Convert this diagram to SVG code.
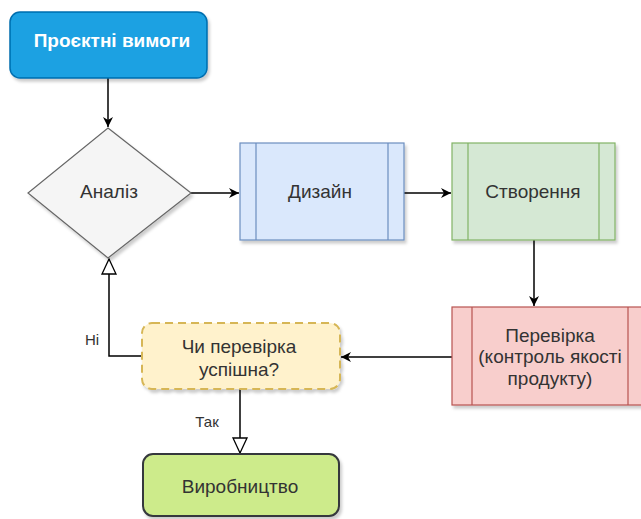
<svg xmlns="http://www.w3.org/2000/svg" width="641" height="519" viewBox="0 0 641 519">
<defs>
<filter id="sh" x="-10%" y="-10%" width="130%" height="130%">
<feDropShadow dx="2" dy="3" stdDeviation="1.5" flood-color="#000" flood-opacity="0.2"/>
</filter>
<marker id="fa" markerUnits="userSpaceOnUse" markerWidth="12" markerHeight="12" viewBox="0 0 12 12" refX="11" refY="6" orient="auto">
<path d="M1,1 L11,6 L1,11 L4,6 z" fill="#000"/>
</marker>
<marker id="ha" markerUnits="userSpaceOnUse" markerWidth="18" markerHeight="18" viewBox="0 0 18 18" refX="16" refY="9" orient="auto">
<path d="M1,2 L16,9 L1,16 z" fill="#fff" stroke="#000" stroke-width="1.3"/>
</marker>
</defs>
<style>
text{font-family:"Liberation Sans",Arial,sans-serif;font-size:19px;fill:#333;text-anchor:middle}
.lbl{font-size:15px}
.c{fill:none;stroke:#000;stroke-width:1.5}
</style>
<g id="connectors">
<path class="c" d="M108,78 L108,127" marker-end="url(#fa)"/>
<path class="c" d="M191,193 L239,193" marker-end="url(#fa)"/>
<path class="c" d="M404,193 L451,193" marker-end="url(#fa)"/>
<path class="c" d="M534,240 L534,306" marker-end="url(#fa)"/>
<path class="c" d="M452,357 L341,357" marker-end="url(#fa)"/>
<path class="c" d="M142,356 L109,356 L109,259" marker-end="url(#ha)"/>
<path class="c" d="M240,389 L240,453" marker-end="url(#ha)"/>
<text class="lbl" x="92" y="345">Ні</text>
<text class="lbl" x="207" y="427">Так</text>
</g>
<g id="n-vymogy">
<rect x="10" y="12" width="197" height="66" rx="10" fill="#1ba1e2" stroke="#006eaf" stroke-width="1.5" filter="url(#sh)"/>
<text x="112" y="47" style="fill:#fff;font-weight:bold">Проєктні вимоги</text>
</g>
<g id="n-analiz">
<path d="M108,128 L191,193 L108,258 L28,193 z" fill="#f5f5f5" stroke="#666" stroke-width="1.2" filter="url(#sh)"/>
<text x="109" y="198">Аналіз</text>
</g>
<g id="n-dyzain">
<rect x="240" y="143" width="164" height="97" fill="#dae8fc" stroke="#6c8ebf" stroke-width="1.2" filter="url(#sh)"/>
<path d="M256,143 L256,240 M388,143 L388,240" stroke="#6c8ebf" stroke-width="1.2"/>
<text x="320" y="198">Дизайн</text>
</g>
<g id="n-stvorennia">
<rect x="452" y="143" width="163" height="97" fill="#d5e8d4" stroke="#82b366" stroke-width="1.2" filter="url(#sh)"/>
<path d="M468,143 L468,240 M599,143 L599,240" stroke="#82b366" stroke-width="1.2"/>
<text x="533" y="198">Створення</text>
</g>
<g id="n-perevirka">
<rect x="452" y="307" width="196" height="98" fill="#f8cecc" stroke="#b85450" stroke-width="1.2" filter="url(#sh)"/>
<path d="M472,307 L472,405 M628,307 L628,405" stroke="#b85450" stroke-width="1.2"/>
<text x="550" y="342">Перевірка</text>
<text x="550" y="363">(контроль якості</text>
<text x="550" y="385">продукту)</text>
</g>
<g id="n-chy">
<rect x="142" y="323" width="198" height="66" rx="10" fill="#fff2cc" stroke="#d6b656" stroke-width="2" stroke-dasharray="8,5" filter="url(#sh)"/>
<text x="239" y="353">Чи перевірка</text>
<text x="239" y="376">успішна?</text>
</g>
<g id="n-vyrobnytstvo">
<rect x="143" y="454" width="196" height="62" rx="10" fill="#cdeb8b" stroke="#36393d" stroke-width="2" filter="url(#sh)"/>
<text x="240" y="493">Виробництво</text>
</g>
</svg>
